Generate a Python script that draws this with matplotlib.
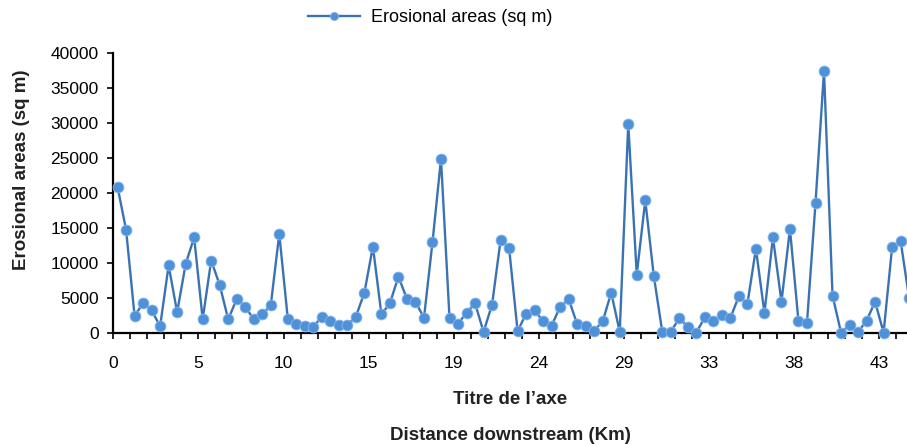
import numpy as np
import matplotlib
matplotlib.use('Agg')
import matplotlib.pyplot as plt

plt.rcParams['font.family'] = ['Liberation Sans', 'DejaVu Sans']

erosion = [20900, 14800, 2500, 4300, 3300, 1000, 9700, 3000, 9900, 13700,
           2000, 10400, 6900, 2000, 4900, 3800, 2000, 2700, 4000, 14200,
           2100, 1300, 1000, 900, 2400, 1700, 1200, 1200, 2400, 5800,
           12400, 2700, 4300, 8100, 4900, 4500, 2200, 13000, 24900, 2200,
           1400, 2900, 4300, 200, 4100, 13300, 12200, 300, 2800, 3300,
           1700, 1100, 3800, 4900, 1300, 1100, 400, 1700, 5800, 200,
           29900, 8400, 19000, 8200, 200, 200, 2200, 900, 100, 2300,
           1700, 2600, 2200, 5300, 4200, 12100, 2900, 13700, 4500, 14900,
           1700, 1500, 18600, 37500, 5400, 100, 1200, 200, 1800, 4500,
           100, 12300, 13200, 5000]
dist_labels = ['0', '5', '10', '15', '19', '24', '29', '33', '38', '43']
yticks = [0, 5000, 10000, 15000, 20000, 25000, 30000, 35000, 40000]

W, H = 907, 445
fig = plt.figure(figsize=(W / 100, H / 100), dpi=100)
ax = fig.add_axes([113.3 / W, (H - 333.3) / H, (W - 113.3) / W, 280 / H])

x = np.arange(len(erosion))
ax.plot(x, erosion, '-o', color='#3b72b4', lw=1.7,
        markersize=7.8, markerfacecolor='#4f91d9', markeredgecolor='#86b6ea',
        markeredgewidth=0.6, label='Erosional areas (sq m)',
        clip_on=False, zorder=5)

ax.set_ylim(0, 40000)
ax.set_xlim(-0.5, 92.75)
ax.set_yticks(yticks)
ax.set_yticklabels([str(v) for v in yticks])

# tick marks every 2 categories, a label every 10
xt = np.arange(-0.5, 93, 2)
ax.set_xticks(xt)
lab = []
for k in range(len(xt)):
	if k % 5 == 0 and k // 5 < len(dist_labels):
		lab.append(dist_labels[k // 5])
	else:
		lab.append('')
ax.set_xticklabels(lab)

for s in ['top', 'right']:
	ax.spines[s].set_visible(False)
ax.spines['left'].set_linewidth(1.6)
ax.spines['bottom'].set_linewidth(1.6)
ax.tick_params(axis='y', direction='out', length=4.5, width=1.2, labelsize=12.5, pad=6)
ax.tick_params(axis='x', direction='out', length=4.5, width=1.2, labelsize=12.5, pad=12)

fig.text(510 / W, 1 - 399 / H, 'Titre de l\u2019axe', ha='center', va='center',
         fontsize=13.5, fontweight='bold', color='#222222')
fig.text(510 / W, 1 - 436 / H, 'Distance downstream (Km)', ha='center', va='center',
         fontsize=13.5, fontweight='bold', color='#222222')
fig.text(22 / W, 1 - 170 / H, 'Erosional areas (sq m)', ha='center', va='center',
         rotation=90, fontsize=13.5, fontweight='bold', color='#222222')

fig.legend(loc='center left', bbox_to_anchor=(308 / W, 1 - 18 / H), frameon=False,
           fontsize=13, handlelength=2.9, handletextpad=0.6, borderpad=0,
           borderaxespad=0, markerscale=0.75)

fig.savefig('out.png', dpi=100)
